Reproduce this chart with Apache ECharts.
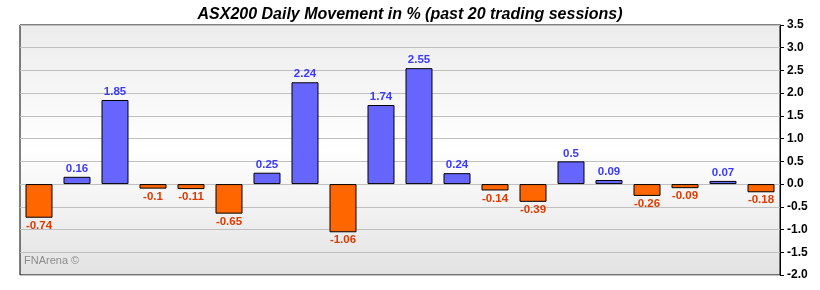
<!DOCTYPE html>
<html><head><meta charset="utf-8">
<script src="https://cdn.jsdelivr.net/npm/echarts@6/dist/echarts.min.js"></script>
<style>html,body{margin:0;padding:0;background:#fff}#c{width:820px;height:290px}</style>
</head><body><div id="c"></div>
<script>
const sessions = ['1','2','3','4','5','6','7','8','9','10','11','12','13','14','15','16','17','18','19','20'];
const movement = [-0.74, 0.16, 1.85, -0.1, -0.11, -0.65, 0.25, 2.24, -1.06, 1.74, 2.55, 0.24, -0.14, -0.39, 0.5, 0.09, -0.26, -0.09, 0.07, -0.18];
const yTicks = { min: -2, max: 3.5, interval: 0.5 };

const chart = echarts.init(document.getElementById('c'));
chart.setOption({
  animation: false,
  title: {
    text: 'ASX200 Daily Movement in % (past 20 trading sessions)',
    left: 'center', top: 2,
    textStyle: { fontFamily: 'Liberation Sans, Arial', fontSize: 16, fontWeight: 'bold', fontStyle: 'italic', color: '#000' }
  },
  grid: {
    left: 20, right: 40, top: 25, bottom: 15, show: true,
    borderColor: '#000', borderWidth: 1,
    backgroundColor: new echarts.graphic.LinearGradient(0, 0, 0, 1, [
      { offset: 0, color: '#ececec' },
      { offset: 0.5, color: '#ffffff' },
      { offset: 1, color: '#e2e2e2' }
    ])
  },
  graphic: [{
    type: 'text', left: 24, top: 255,
    style: { text: 'FNArena ©', fill: '#8c8c8c', font: '11px Liberation Sans, Arial' }
  }],
  xAxis: {
    type: 'category', data: sessions,
    axisLine: { show: false }, axisTick: { show: false }, axisLabel: { show: false }, splitLine: { show: false }
  },
  yAxis: {
    type: 'value', position: 'right', min: yTicks.min, max: yTicks.max, interval: yTicks.interval,
    axisLine: { show: true, lineStyle: { color: '#000', width: 1 } },
    axisTick: { show: true, length: 4, lineStyle: { color: '#000' } },
    axisLabel: { margin: 7, color: '#000', fontFamily: 'Liberation Sans, Arial', fontSize: 12, fontWeight: 'bold', formatter: v => v.toFixed(1) },
    splitLine: { show: true, lineStyle: { color: '#c0c0c0', width: 1 } }
  },
  series: [{
    type: 'bar', barWidth: '71%',
    data: movement.map(v => ({
      value: v,
      itemStyle: { color: v >= 0 ? '#6666ff' : '#ff6600', borderColor: '#000', borderWidth: 1 },
      label: {
        show: true, position: v >= 0 ? 'top' : 'bottom', distance: 2,
        color: v >= 0 ? '#3a3aff' : '#dd3a00',
        fontFamily: 'Liberation Sans, Arial', fontSize: 11.5, fontWeight: 'bold',
        formatter: () => String(v)
      }
    }))
  }]
});
</script></body></html>
